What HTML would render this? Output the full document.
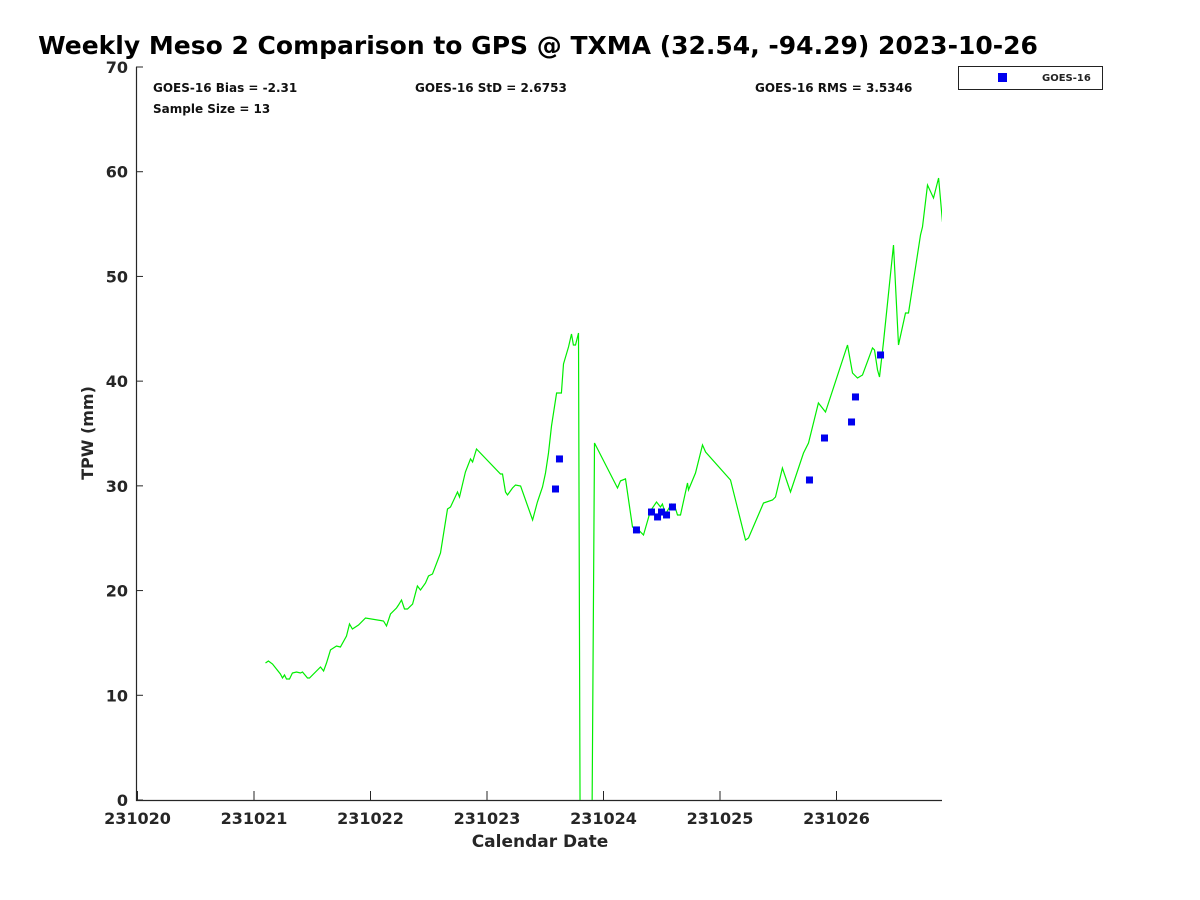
<!DOCTYPE html>
<html><head><meta charset="utf-8"><style>
html,body{margin:0;padding:0;background:#fff;}
svg{display:block;font-family:"DejaVu Sans","Liberation Sans",sans-serif;}
</style></head><body>
<svg id="chart" width="1200" height="900" viewBox="0 0 1200 900">
<defs><clipPath id="plotclip"><rect x="136" y="60" width="806" height="740"/></clipPath></defs>
<text x="538" y="54" text-anchor="middle" font-size="25" font-weight="bold" fill="#000">Weekly Meso 2 Comparison to GPS @ TXMA (32.54, -94.29) 2023-10-26</text>
<g id="axes"></g>
<g id="series" clip-path="url(#plotclip)"></g>
<g font-size="12" font-weight="bold" fill="#111">
<text x="153" y="92">GOES-16 Bias = -2.31</text>
<text x="153" y="113">Sample Size = 13</text>
<text x="415" y="92">GOES-16 StD = 2.6753</text>
<text x="755" y="92">GOES-16 RMS = 3.5346</text>
</g>
<g>
<rect x="958.5" y="66.5" width="144" height="23" fill="#fff" stroke="#222"/>
<rect x="998" y="73" width="9" height="9" fill="#0000ee"/>
<text x="1042" y="81" font-size="10" font-weight="bold" fill="#222">GOES-16</text>
</g>
<text x="540" y="847" text-anchor="middle" font-size="17" font-weight="bold" fill="#262626">Calendar Date</text>
<text transform="translate(93,433) rotate(-90)" text-anchor="middle" font-size="16" font-weight="bold" fill="#262626">TPW (mm)</text>
</svg>
<script>
const xTickLabels = ["231020","231021","231022","231023","231024","231025","231026"];
const yTicks = [0,10,20,30,40,50,60,70];
const gpsDays = [1.099,1.124,1.159,1.227,1.245,1.262,1.279,1.305,1.330,1.365,1.399,1.416,1.459,1.476,1.571,1.597,1.622,1.657,1.708,1.742,1.794,1.820,1.845,1.897,1.957,2.112,2.137,2.172,2.223,2.240,2.266,2.292,2.318,2.361,2.403,2.429,2.472,2.498,2.532,2.601,2.661,2.687,2.747,2.764,2.815,2.858,2.876,2.910,3.116,3.133,3.159,3.176,3.219,3.245,3.288,3.391,3.433,3.476,3.502,3.528,3.554,3.571,3.597,3.639,3.657,3.700,3.725,3.742,3.760,3.785,3.800,3.900,3.923,4.120,4.146,4.189,4.249,4.300,4.343,4.403,4.455,4.489,4.506,4.532,4.584,4.609,4.635,4.661,4.721,4.730,4.790,4.850,4.876,5.090,5.133,5.219,5.245,5.373,5.451,5.476,5.536,5.605,5.717,5.760,5.845,5.906,6.094,6.137,6.180,6.223,6.309,6.326,6.352,6.369,6.403,6.489,6.532,6.592,6.618,6.721,6.738,6.781,6.833,6.876,6.910];
const gpsTpw = [13.08,13.27,12.99,12.03,11.65,11.94,11.56,11.56,12.13,12.22,12.13,12.22,11.65,11.65,12.70,12.32,13.08,14.33,14.71,14.61,15.66,16.81,16.33,16.71,17.38,17.09,16.62,17.76,18.34,18.62,19.10,18.24,18.24,18.72,20.44,20.05,20.72,21.39,21.58,23.59,27.79,27.98,29.41,28.94,31.32,32.57,32.28,33.52,31.13,31.13,29.41,29.13,29.80,30.08,29.99,26.74,28.46,29.89,31.23,33.14,35.72,36.96,38.87,38.87,41.64,43.26,44.50,43.45,43.45,44.60,-5,-5,34.09,29.80,30.47,30.66,26.07,25.79,25.31,27.60,28.46,27.98,28.27,27.31,28.27,28.17,27.22,27.22,30.27,29.61,31.23,33.90,33.23,30.56,28.65,24.83,25.02,28.36,28.65,28.94,31.71,29.41,33.14,34.09,37.91,37.05,43.45,40.78,40.30,40.59,43.17,42.98,41.07,40.40,43.64,53.00,43.45,46.51,46.51,53.96,54.73,58.73,57.49,59.40,55.20];
const goesDays = [3.588,3.622,4.283,4.412,4.464,4.498,4.541,4.592,5.768,5.897,6.129,6.163,6.378];
const goesTpw = [29.70,32.57,25.79,27.50,27.03,27.50,27.22,27.98,30.56,34.57,36.10,38.49,42.50];

const NS='http://www.w3.org/2000/svg';
const X0=136, X1=942, Y0=800, Y1=67;
const dayPx=116.5, day0Px=137.5;
const xs = d => day0Px + d*dayPx;
const ys = v => Y0 - (v/70)*(Y0-Y1);
function mk(tag, attrs, parent){const e=document.createElementNS(NS,tag);for(const k in attrs)e.setAttribute(k,attrs[k]);parent.appendChild(e);return e;}
const axes=document.getElementById('axes');
const series=document.getElementById('series');

let a=mk('path',{d:`M${X0+0.5},${Y1} V${Y0+0.5} H${X1}`,fill:'none',stroke:'#262626','stroke-width':1.2},axes);



yTicks.forEach(v=>{
  const y=ys(v);
  const t=mk('line',{x1:X0,x2:X0+7,y1:y,y2:y,stroke:'#262626'},axes);
  
  
  const l=mk('text',{x:X0-8,y:y+6,'text-anchor':'end','font-size':16,'font-weight':'bold',fill:'#262626'},axes);
  l.textContent=v;
  
  
});
xTickLabels.forEach((lab,i)=>{
  const x=xs(i);
  const t=mk('line',{x1:x,x2:x,y1:Y0,y2:Y0-9,stroke:'#262626'},axes);
  
  
  const l=mk('text',{x:x,y:Y0+24,'text-anchor':'middle','font-size':16,'font-weight':'bold',fill:'#262626'},axes);
  l.textContent=lab;
  
  
});

const pts=gpsDays.map((d,i)=>`${xs(d).toFixed(1)},${ys(gpsTpw[i]).toFixed(1)}`).join(' ');
const line=mk('polyline',{points:pts,fill:'none',stroke:'#00ee00','stroke-width':1.2},series);



goesDays.forEach((d,i)=>{
  const r=mk('rect',{x:xs(d)-3.5,y:ys(goesTpw[i])-3.5,width:7,height:7,fill:'#0000ee'},series);
  
  
});
</script>
</body></html>
